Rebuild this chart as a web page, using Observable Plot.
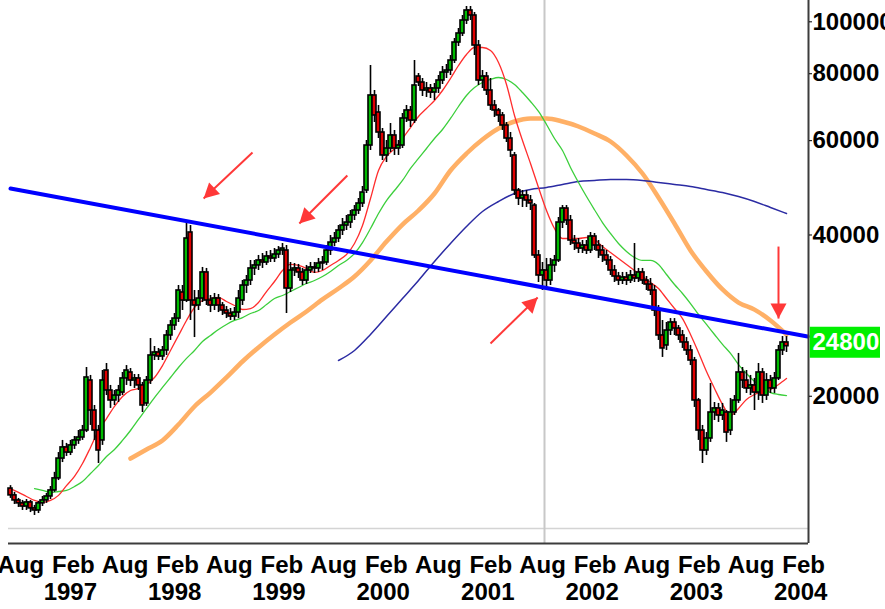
<!DOCTYPE html>
<html>
<head>
<meta charset="utf-8">
<script src="https://cdn.jsdelivr.net/npm/d3@7"></script>
<script src="https://cdn.jsdelivr.net/npm/@observablehq/plot@0.6"></script>
<style>
  html, body { margin: 0; padding: 0; background: #ffffff; }
  #chart svg { display: block; }
</style>
</head>
<body>
<div id="chart"></div>
<script>
// ---------- DATA (fortnightly candles) ----------
const candleStart = "1996-06-26";
const candleStepDays = 14;

const opens = [
13450,13060,12780,12620,12450,12670,12350,12240,12620,12780,
13000,13340,14050,15300,16050,15700,16190,16540,16750,17260,
21400,18810,17260,16540,22340,20500,19640,20060,20320,21590,
22150,21400,21590,20950,19390,21400,23830,24140,23730,24350,
25970,27110,27930,31240,30180,40430,30180,29540,30440,34050,
30180,29540,30440,29540,28910,28540,28170,28660,30180,32190,
32890,34640,35090,35850,35540,36470,36160,36780,37420,37420,
31780,34340,34640,34050,32890,34340,34790,34640,35390,35540,
37420,38720,39400,40780,41660,42200,43500,44440,45800,48430,
58760,72860,67720,62140,56300,58010,61350,58010,58760,66000,
68310,65430,79050,77040,74440,75080,73800,75080,77710,80420,
81120,84680,91490,95110,100570,104990,102760,90320,77710,79050,
74440,69790,68310,66860,64040,60560,56300,48430,46790,47400,
46390,45400,36630,33610,34340,32890,35090,35850,42200,44820,
42570,39060,38560,37740,38230,37420,39740,38230,37420,36630,
35850,34340,33460,32890,33320,32890,33610,33180,34050,32890,
32330,31510,28910,25970,24880,26530,27460,26760,25970,25200,
24350,23320,19640,17260,15840,16680,18650,18980,18410,18650,
17260,18650,19640,22150,21400,20680,20950,20320,22150,20060,
21400,20680,21590,24350,25200];

const highs = [
13620,13230,12890,12780,12830,12780,12510,12730,13000,13170,
13570,14420,15700,16540,16330,16540,16820,17260,17640,22630,
21870,19220,17640,22340,23020,20950,20500,20950,22150,22820,
22530,21960,21960,21220,21770,25630,24770,24560,24770,26530,
27700,28540,32190,32190,42030,41660,31510,31510,34790,34640,
30840,31110,30970,29920,29410,29160,29290,31510,32890,33610,
35850,35850,36630,36940,37260,37420,37740,38060,38560,38230,
35540,35390,35240,34640,35090,35540,35540,36160,36470,38230,
39910,40430,41660,42940,43500,44440,45400,46790,49270,60040,
82880,74440,69790,63220,60040,64590,62680,60040,67440,69790,
69490,84680,80080,78380,77040,76390,76710,79400,82520,83240,
86520,93080,97170,102760,106810,106810,104090,92280,81120,80420,
78380,71310,68900,67720,64870,62140,57030,48850,48430,48430,
47400,45800,37420,35540,36160,36160,36630,43120,45400,45400,
43500,39910,39400,39060,39060,40430,40260,39060,38230,37420,
36470,35090,34050,34050,34050,34340,38560,34640,34640,33460,
33180,32190,29540,27700,27460,27930,27930,27110,26530,25740,
24880,23630,19810,17640,17110,21130,19470,19390,19390,18810,
19810,20060,24040,22630,22340,21870,21590,23020,22530,22050,
21870,22150,24880,25850,25850];

const lows = [
12890,12560,12400,12240,12240,12130,11980,12080,12450,12620,
12830,13230,13920,15040,15440,15500,15910,16260,16540,17110,
17640,16540,14980,16190,20060,18980,19220,19470,20060,20950,
20850,20680,20500,18650,19140,21040,23320,23320,23320,23830,
25420,26530,27460,28910,29920,27700,25740,28910,29920,29540,
28660,28910,28660,28300,27930,27700,27700,27930,29540,31110,
32190,33610,34340,34640,35090,35540,35540,36160,36630,28540,
31240,33460,33180,32190,32330,33900,33900,34050,34340,35090,
36630,38060,38720,39910,40780,41130,42570,43680,45020,47810,
57520,64870,60560,55100,54630,57030,56300,56300,58010,64870,
63490,64590,75730,72540,72240,71920,71310,73490,76390,78380,
79400,83600,89930,93880,98860,100570,86520,76060,75080,72860,
68310,66290,64870,62680,59520,55820,47400,45400,45020,45020,
44440,36160,32610,31510,31780,32190,34050,35540,41130,41660,
38230,37420,36940,36940,36780,36940,37420,36160,35540,35090,
33610,32610,32190,32330,32190,32470,32610,32610,32330,31510,
30840,28170,25420,23630,24350,25970,25970,25420,24560,23830,
22820,19060,16540,14980,15500,16400,18020,17870,18020,16400,
16890,18410,19390,20680,20240,20060,18810,19640,19390,19640,
20240,20240,21400,23830,24140];

const closes = [
13060,12780,12620,12450,12670,12350,12240,12620,12780,13000,
13340,14050,15300,16050,15700,16190,16540,16750,17260,21680,
18810,17260,15840,21400,20500,19640,20060,20500,21590,22340,
21400,21590,20950,19220,21400,23830,24140,23730,24350,25970,
27110,27930,31510,30180,39400,30180,29540,30440,34050,30180,
29540,30440,29540,28910,28540,28170,28660,30440,32190,32890,
34640,35090,35850,35540,36470,36160,36780,37420,37740,31780,
34340,34640,34050,32890,34340,34790,34640,35390,35540,37420,
38720,39400,40780,41660,42200,43500,44440,45800,48010,58760,
72860,66860,62140,56300,58010,61350,58010,58760,66000,68310,
65430,76060,77040,74440,75080,73800,75080,77710,80420,81120,
84680,91490,95110,100570,104990,102760,90320,77710,79050,74440,
69790,68310,66860,64040,60560,57520,48430,46790,47400,46390,
45800,36630,33610,34340,32890,35090,35850,42200,44820,42570,
39060,38560,37740,38230,37420,39740,38230,37420,36630,35850,
34340,33460,32890,33320,32890,33610,33180,34050,32890,32330,
31510,28910,25970,24560,26530,27460,26760,25970,25200,24350,
23320,19640,17260,15840,16680,18650,18980,18410,18810,17110,
18650,19640,22150,21400,20680,20950,20320,22150,20060,21400,
20680,21590,24350,25200,24800];

// Moving averages
const redStart = "1996-06-26", redStepDays = 28;
const redMA = [
13450,13230,13000,12780,12670,12780,13060,13620,14170,14980,
16050,17260,18170,19140,19980,20500,20680,21040,21680,22820,
24350,25970,27700,29290,30180,30440,30580,30050,29540,29040,
29160,29920,31370,32750,34340,35240,35090,34640,34050,34340,
35090,35850,36780,38560,41660,46790,52780,56050,58010,60560,
63490,66570,68900,71310,74440,78380,82880,86900,89550,89550,
88400,83950,76390,66860,60040,54390,49060,44440,41130,39400,
39400,39400,39570,39230,38060,37100,36160,35240,34340,33460,
32610,31780,30440,29160,27930,26080,24140,22240,20680,19310,
18410,18980,19720,20150,20410,20590,21040,21590];

const greenStart = "1996-09-18", greenStepDays = 28;
const greenMA = [
13450,13340,13230,13280,13340,13570,13860,14350,14850,15440,
15910,16540,17260,18100,18980,19890,20770,21680,22630,23530,
24350,25310,25970,26650,27230,27700,28050,28540,28910,29670,
30440,30840,31370,31920,32470,32890,33460,34190,35090,35850,
36940,38720,41130,43870,46390,48430,50560,53240,55580,58010,
60560,62950,66000,69490,72860,75410,77040,78050,78720,78050,
76390,73800,71000,68020,64320,60560,57520,53470,50130,47190,
44590,42200,40260,38560,37260,36310,35850,35850,35240,33750,
32330,31110,29790,28420,27230,26080,24990,24040,22920,22050,
21310,20770,20320,20150,20060];

const orangeStart = "1997-08-20", orangeStepDays = 56;
const orangeMA = [
15300,15910,16540,17710,19140,20320,21680,23220,24670,26080,
27460,28790,30320,31780,33460,35850,38890,41840,44440,47810,
52780,56780,60300,63220,65150,66000,66000,65150,63770,61880,
59780,56300,52100,47000,42030,37420,34190,31650,29920,29020,
27700,26080];

const navyStart = "1999-08-18", navyStepDays = 56;
const navyMA = [
23320,24350,26080,28170,30440,32890,35700,38560,41480,44250,
46190,47810,48640,49060,49700,50340,50560,50770,50770,50560,
50130,49700,49270,48640,48010,47190,46190,45020,43870];

// Trend line (two anchors)
const trendDates = ["1996-06-26", "2004-02-15"];
const trendValues = [48850, 25850];

// Red arrows
const arrowFromDates  = ["1998-10-21", "1999-09-18", "2001-01-31", "2003-11-05"];
const arrowFromValues = [57030, 51660, 25090, 38060];
const arrowToDates    = ["1998-05-03", "1999-04-03", "2001-07-15", "2003-11-05"];
const arrowToValues   = [46790, 42030, 30580, 27930];

// Vertical marker and last-price tag
const markerDate = "2001-08-08";
const lastPrice = 24800;
const tagSpan = ["2004-02-24", "2004-10-27"];   // extent of the green tag in the right margin
const tagTextDate = "2004-03-03";

// Axes
const monthTicks = ["1996-08-01","1997-02-01","1997-08-01","1998-02-01","1998-08-01","1999-02-01",
  "1999-08-01","2000-02-01","2000-08-01","2001-02-01","2001-08-01","2002-02-01","2002-08-01",
  "2003-02-01","2003-08-01","2004-02-01"];
const yearTicks = ["1997-02-01","1998-02-01","1999-02-01","2000-02-01","2001-02-01","2002-02-01","2003-02-01","2004-02-01"];
const yTicks = [20000, 40000, 60000, 80000, 100000];
const xDomain = ["1996-06-19", "2004-02-18"];
const yDomain = [10620, 109600];

// ---------- BUILD ----------
const D = s => new Date(s);
const candles = closes.map((c, i) => ({
  date: d3.utcDay.offset(D(candleStart), candleStepDays * i),
  open: opens[i], high: highs[i], low: lows[i], close: c
}));
const series = (start, step, vals) => vals.map((v, i) => ({date: d3.utcDay.offset(D(start), step * i), value: v}));
const red = series(redStart, redStepDays, redMA);
const green = series(greenStart, greenStepDays, greenMA);
const orange = series(orangeStart, orangeStepDays, orangeMA);
const navy = series(navyStart, navyStepDays, navyMA);
const trend = trendDates.map((d, i) => ({date: D(d), value: trendValues[i]}));
const arrows = arrowFromDates.map((d, i) => ({
  x1: D(d), y1: arrowFromValues[i], x2: D(arrowToDates[i]), y2: arrowToValues[i]
}));
const tag = [{x1: D(tagSpan[0]), x2: D(tagSpan[1]), tx: D(tagTextDate), value: lastPrice}];

const font = "'Liberation Sans', Arial, Helvetica, sans-serif";

const svg = Plot.plot({
  width: 885,
  height: 609,
  marginLeft: 8,
  marginRight: 77,
  marginTop: 0,
  marginBottom: 66,
  style: {fontFamily: font, background: "#ffffff", color: "#000000"},
  x: {type: "utc", domain: xDomain.map(D), axis: null},
  y: {type: "log", domain: yDomain, axis: null},
  color: {type: "identity"},
  marks: [
    Plot.ruleY([yDomain[0]], {stroke: "#d4d4d4", strokeWidth: 1.5, dy: -15}),
    Plot.ruleX([D(markerDate)], {stroke: "#c8c8c8", strokeWidth: 2}),
    Plot.line(orange, {x: "date", y: "value", stroke: "#ffb066", strokeWidth: 4.5, curve: "monotone-x"}),
    Plot.line(navy, {x: "date", y: "value", stroke: "#2b2ba3", strokeWidth: 1.5, curve: "monotone-x"}),
    Plot.line(green, {x: "date", y: "value", stroke: "#3ccf3c", strokeWidth: 1.3, curve: "monotone-x"}),
    Plot.line(red, {x: "date", y: "value", stroke: "#ff2d2d", strokeWidth: 1.3, curve: "monotone-x"}),
    Plot.ruleX(candles, {x: "date", y1: "low", y2: "high", stroke: "#000000", strokeWidth: 1.6}),
    Plot.rect(candles, {
      x1: d => d3.utcDay.offset(d.date, -7),
      x2: d => d3.utcDay.offset(d.date, 7),
      y1: "open", y2: "close",
      fill: d => d.close >= d.open ? "#00bb00" : "#e00000",
      stroke: "#000000", strokeWidth: 1.6
    }),
    Plot.line(trend, {x: "date", y: "value", stroke: "#0000ff", strokeWidth: 4}),
    Plot.link(arrows, {x1: "x1", y1: "y1", x2: "x2", y2: "y2", stroke: "#ff3838", strokeWidth: 2, markerEnd: "arrow"}),
    Plot.ruleY([yDomain[0]], {stroke: "#3c3c3c", strokeWidth: 2}),
    Plot.ruleX([D(xDomain[1])], {stroke: "#3c3c3c", strokeWidth: 2}),
    Plot.axisY(yTicks, {anchor: "right", tickFormat: d3.format("d"), tickSize: 3, tickPadding: 1,
      fontSize: 24, fontWeight: "bold", fill: "#000000"}),
    Plot.axisX(monthTicks.map(D), {anchor: "bottom", tickFormat: d3.utcFormat("%b"), tickSize: 0, tickPadding: 12,
      fontSize: 24, fontWeight: "bold", fill: "#000000"}),
    Plot.axisX(yearTicks.map(D), {anchor: "bottom", tickFormat: d3.utcFormat("%Y"), tickSize: 0, tickPadding: 39, dx: -3,
      fontSize: 24, fontWeight: "bold", fill: "#000000"}),
    Plot.ruleY(tag, {y: "value", x1: "x1", x2: "x2", stroke: "#00f000", strokeWidth: 31, dy: -4}),
    Plot.text(tag, {x: "tx", y: "value", dy: -4, textAnchor: "start",
      text: d => d3.format("d")(d.value), fill: "#ffffff", fontSize: 24, fontWeight: "bold"})
  ]
});

document.getElementById("chart").appendChild(svg);

// Filled triangular arrowheads
svg.querySelectorAll("marker").forEach(m => {
  const color = m.getAttribute("stroke") || "#ff3838";
  m.setAttribute("markerUnits", "userSpaceOnUse");
  m.setAttribute("viewBox", "-16 -9 18 18");
  m.setAttribute("markerWidth", 18);
  m.setAttribute("markerHeight", 18);
  m.setAttribute("fill", color);
  m.setAttribute("stroke", "none");
  while (m.firstChild) m.removeChild(m.firstChild);
  const p = document.createElementNS("http://www.w3.org/2000/svg", "path");
  p.setAttribute("d", "M-15,-8L0,0L-15,8Z");
  m.appendChild(p);
});
</script>
</body>
</html>
